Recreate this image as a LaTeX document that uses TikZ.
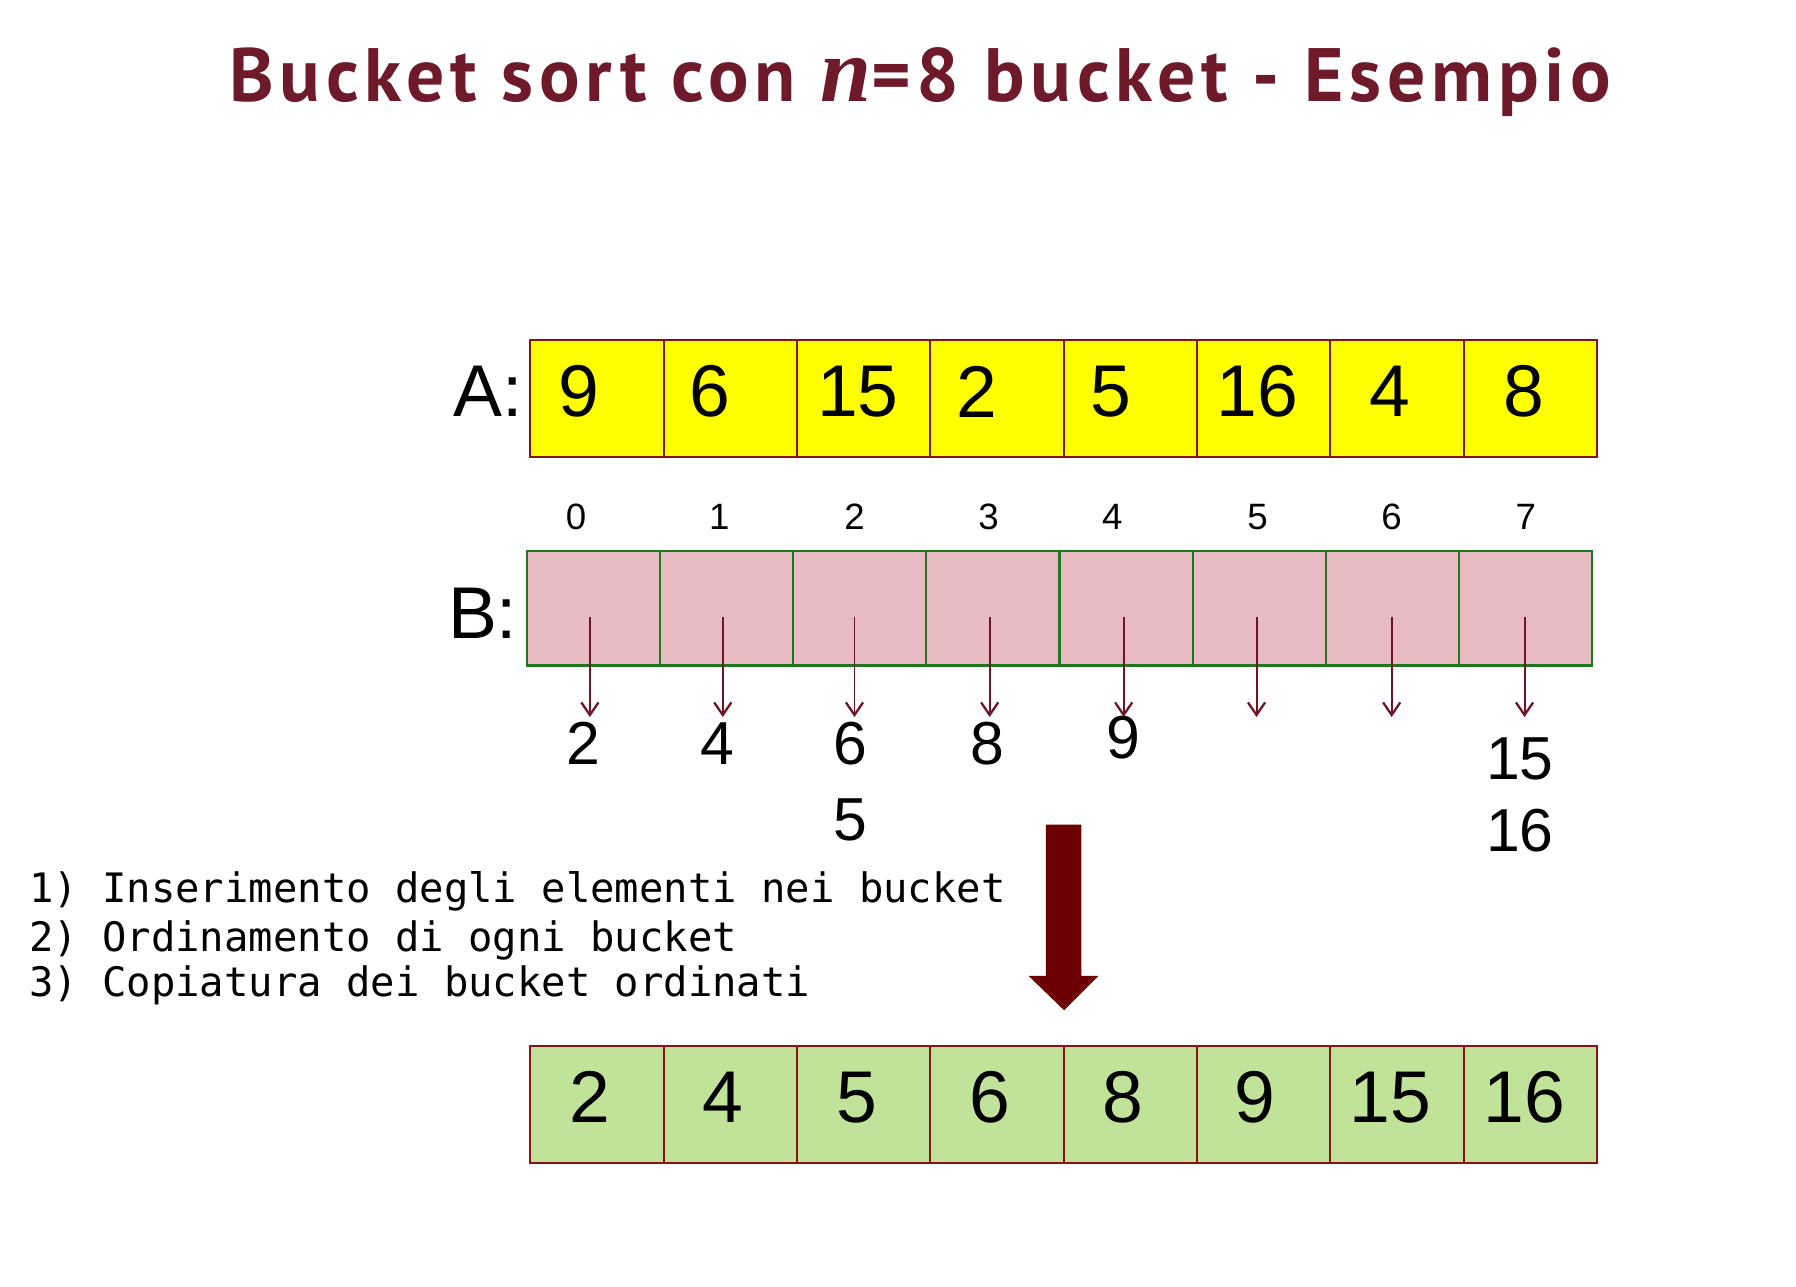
\documentclass[tikz,border=0pt]{standalone}
\usepackage{fontspec}
\setmainfont{Liberation Sans}
\newfontfamily\titlefont[LetterSpace=7.5]{PT Sans}
\newfontfamily\nfont{Liberation Serif}
\newfontfamily\stepfont{DejaVu Sans Mono}
\usetikzlibrary{arrows.meta}
\definecolor{titlered}{RGB}{110,26,42}
\definecolor{aborder}{RGB}{135,20,20}
\definecolor{afill}{RGB}{255,255,0}
\definecolor{bfill}{RGB}{232,186,194}
\definecolor{bborder}{RGB}{30,120,30}
\definecolor{cfill}{RGB}{192,227,153}
\definecolor{arrowred}{RGB}{110,22,40}
\definecolor{bigarrow}{RGB}{108,0,0}
\tikzset{
  acell/.style={draw=aborder, fill=afill, line width=0.9pt, minimum width=58.2pt, minimum height=51pt, inner sep=0pt},
  bcell/.style={draw=bborder, fill=bfill, line width=0.9pt, minimum width=58.125pt, minimum height=50pt, inner sep=0pt},
  ccell/.style={draw=aborder, fill=cfill, line width=0.9pt, minimum width=58.2pt, minimum height=51pt, inner sep=0pt},
  bignum/.style={inner sep=0pt, font=\fontsize{32}{38}\selectfont},
  idxnum/.style={inner sep=0pt, font=\fontsize{16}{19}\selectfont},
  bucknum/.style={inner sep=0pt, font=\fontsize{26.5}{32}\selectfont},
  steptext/.style={anchor=base west, inner sep=0pt, font=\stepfont\fontsize{17.7}{22}\selectfont},
  barrow/.style={draw=arrowred, line width=0.85pt, -{Straight Barb[length=5.5pt,width=7.5pt,line width=1pt]}}
}
\begin{document}
\begin{tikzpicture}[x=0.5pt, y=-0.5pt]
\useasboundingbox (0,0) rectangle (1568,1123);

% title
\node[anchor=base, inner sep=0pt, text=titlered, font=\titlefont\bfseries\fontsize{33}{40}\selectfont] (title) at (803.5,88.8) {Bucket sort con {\nfont\itshape\fontsize{40}{40}\selectfont n}=8 bucket - Esempio};

% array A
\foreach \i in {0,...,7} \node[acell] (a\i) at ({463+116.4*(\i+0.5)},348) {};
\node[bignum, anchor=east] (alab) at (457,342) {A:};
\foreach \v/\x [count=\k from 0] in {9/505,6/620,15/749,2/853,5/970,16/1098,4/1213,8/1330}
  \node[bignum] (av\k) at (\x,342) {\v};

% indices
\foreach \x [count=\k from 0] in {503,628,746,863,971,1098,1215,1332}
  \node[idxnum] (idx\k) at (\x,451) {\k};

% array B
\foreach \i in {0,...,7} \node[bcell] (b\i) at ({460+116.25*(\i+0.5)},531) {};
\node[bignum, anchor=east] (blab) at (452,535) {B:};

% bucket arrows
\foreach \x [count=\k from 0] in {515,631,746,864,981,1097,1215,1331} {
  \coordinate (s\k) at (\x,539);
  \coordinate (e\k) at (\x,626);
  \draw[barrow] (s\k) -- (e\k);
}

% bucket contents
\node[bucknum] (v0) at (509,649) {2};
\node[bucknum] (v1) at (626,649) {4};
\node[bucknum] (v2a) at (742,649) {6};
\node[bucknum] (v2b) at (742,716) {5};
\node[bucknum] (v3) at (862,649) {8};
\node[bucknum] (v4) at (981,644) {9};
\node[bucknum] (v7a) at (1327,663) {15};
\node[bucknum] (v7b) at (1327,725) {16};

% steps
\node[steptext] (st1) at (25,788) {1) Inserimento degli elementi nei bucket};
\node[steptext] (st2) at (25,831) {2) Ordinamento di ogni bucket};
\node[steptext] (st3) at (25,870) {3) Copiatura dei bucket ordinati};

% big arrow
\fill[bigarrow] (913,720) -- (944,720) -- (944,852) -- (959,852) -- (929,882) -- (898,852) -- (913,852) -- cycle;

% sorted array
\foreach \i in {0,...,7} \node[ccell] (c\i) at ({463+116.4*(\i+0.5)},964) {};
\foreach \v/\x [count=\k from 0] in {2/515,4/631,5/748,6/864,8/980,9/1096,15/1214,16/1331}
  \node[bignum] (cv\k) at (\x,958) {\v};
\end{tikzpicture}
\end{document}
